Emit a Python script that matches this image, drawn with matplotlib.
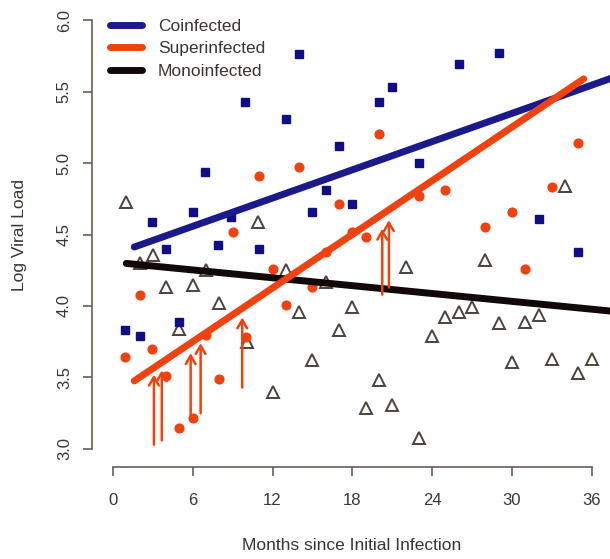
import matplotlib
matplotlib.use("Agg")
import matplotlib.pyplot as plt
from matplotlib.lines import Line2D
import numpy as np

plt.rcParams['font.family'] = ['Liberation Sans', 'DejaVu Sans']

# ---- data ----
co_month = [0.9, 2.0, 2.9, 4.0, 5.0, 6.0, 6.9, 7.9, 8.9, 9.9, 11.0, 13.0, 14.0, 15.0,
            16.0, 17.0, 18.0, 20.0, 21.0, 23.0, 26.0, 29.0, 32.0, 35.0]
co_vl = [3.83, 3.79, 4.59, 4.40, 3.89, 4.66, 4.94, 4.43, 4.62, 5.43, 4.40, 5.31, 5.76, 4.66,
         4.81, 5.12, 4.71, 5.43, 5.53, 5.00, 5.69, 5.77, 4.61, 4.38]

sup_month = [0.9, 2.0, 2.9, 4.0, 5.0, 6.0, 7.0, 8.0, 9.0, 10.0, 11.0, 12.0, 13.0, 14.0,
             15.0, 16.0, 17.0, 18.0, 19.0, 20.0, 23.0, 25.0, 28.0, 30.0, 31.0, 33.0, 35.0]
sup_vl = [3.64, 4.08, 3.70, 3.51, 3.15, 3.22, 3.80, 3.49, 4.52, 3.78, 4.91, 4.26, 4.01, 4.97,
          4.13, 4.38, 4.71, 4.52, 4.48, 5.20, 4.77, 4.81, 4.55, 4.66, 4.26, 4.83, 5.14]

mono_month = [1.0, 2.0, 3.0, 4.0, 5.0, 6.0, 7.0, 8.0, 10.1, 10.9, 12.0, 13.0, 14.0, 15.0,
              16.0, 17.0, 18.0, 19.0, 20.0, 21.0, 22.0, 23.0, 24.0, 25.0, 26.0, 27.0,
              28.0, 29.0, 30.0, 31.0, 32.0, 33.0, 34.0, 35.0, 36.0]
mono_vl = [4.73, 4.30, 4.36, 4.13, 3.84, 4.15, 4.25, 4.02, 3.75, 4.59, 3.40, 4.25, 3.96, 3.62,
           4.17, 3.83, 3.99, 3.29, 3.48, 3.31, 4.27, 3.08, 3.79, 3.92, 3.96, 3.99,
           4.32, 3.88, 3.61, 3.89, 3.94, 3.63, 4.84, 3.53, 3.63]

# fitted lines: (start month, end month, intercept, slope)
co_fit = (1.6, 40.0, 4.36, 0.0329)
sup_fit = (1.6, 35.4, 3.376, 0.0625)
mono_fit = (1.0, 40.0, 4.307, -0.00915)

# superinfection arrows: month, start value, end value
arrow_month = [3.08, 3.67, 5.84, 6.59, 9.72, 20.25, 20.75]
arrow_from = [3.03, 3.06, 3.20, 3.25, 3.43, 4.08, 4.13]
arrow_to = [3.52, 3.55, 3.67, 3.74, 3.92, 4.54, 4.60]

x_ticks = [0, 6, 12, 18, 24, 30, 36]
y_ticks = [3.0, 3.5, 4.0, 4.5, 5.0, 5.5, 6.0]
y_tick_labels = ["3.0", "3.5", "4.0", "4.5", "5.0", "5.5", "6.0"]
series_names = ["Coinfected", "Superinfected", "Monoinfected"]

BLUE = "#1a1a8a"
SQ = "#0f0f85"
ORANGE = "#f0420f"
BLACK = "#120808"
TRI = "#4d423d"
AXC = "#6b5d55"
TXT = "#3d3330"

W, H = 610, 559
fig = plt.figure(figsize=(W / 100, H / 100), dpi=100)
ax = fig.add_axes([92 / W, (H - 467) / H, (W - 92) / W, 467 / H])
ax.set_xlim(-1.579, 37.377)
ax.set_ylim(2.874, 6.140)

# points
ax.plot(mono_month, mono_vl, linestyle='none', marker='^', ms=9, mfc='white',
        mec=TRI, mew=1.4, zorder=2)
ax.plot(co_month, co_vl, linestyle='none', marker='s', ms=5.8, color=SQ, zorder=2)
ax.plot(sup_month, sup_vl, linestyle='none', marker='o', ms=6.3, color=ORANGE, zorder=2)

# fitted lines
for fit, c in [(co_fit, BLUE), (mono_fit, BLACK), (sup_fit, ORANGE)]:
    xs = np.array([fit[0], fit[1]])
    ax.plot(xs, fit[2] + fit[3] * xs, color=c, lw=5, solid_capstyle='round', zorder=3)

# arrows
for xm, y0, y1 in zip(arrow_month, arrow_from, arrow_to):
    ax.annotate('', xy=(xm, y1), xytext=(xm, y0),
                arrowprops=dict(arrowstyle='->, head_length=0.6, head_width=0.35',
                                color=ORANGE, lw=1.8, shrinkA=0, shrinkB=0),
                zorder=4)

# axes styling (R-like detached axes)
for s in ['top', 'right']:
    ax.spines[s].set_visible(False)
ax.spines['left'].set_bounds(3.0, 6.0)
ax.spines['bottom'].set_bounds(0, 36)
for s in ['left', 'bottom']:
    ax.spines[s].set_color(AXC)
    ax.spines[s].set_linewidth(1.2)
ax.set_xticks(x_ticks)
ax.set_xticklabels([str(t) for t in x_ticks])
ax.set_yticks(y_ticks)
ax.set_yticklabels(y_tick_labels, rotation=90, va='center')
ax.tick_params(axis='both', direction='out', length=6.5, width=1.2, color=AXC,
               labelcolor=TXT, labelsize=12)
ax.tick_params(axis='x', pad=12)
ax.tick_params(axis='y', pad=8)

fig.text(352 / W, 1 - 545 / H, "Months since Initial Infection", ha='center', va='center',
         fontsize=12.5, color=TXT)
fig.text(20 / W, 1 - 235 / H, "Log Viral Load", ha='center', va='center', rotation=90,
         fontsize=12.5, color=TXT)

# legend (drawn manually, R-style)
for i, (name, c) in enumerate(zip(series_names, (BLUE, ORANGE, BLACK))):
    yp = 1 - (25 + 22.5 * i) / H
    fig.add_artist(Line2D([110 / W, 142 / W], [yp, yp], transform=fig.transFigure,
                          color=c, lw=5, solid_capstyle='round'))
    fig.text(158 / W, yp, name, ha='left', va='center_baseline', fontsize=12.5, color=TXT)

fig.savefig("out.png", dpi=100)
